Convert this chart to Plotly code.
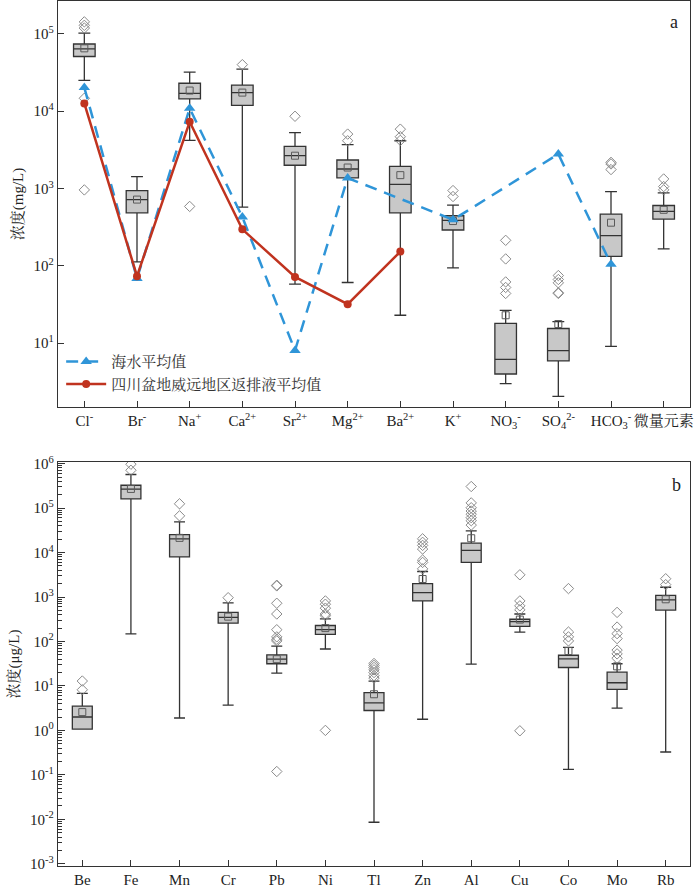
import plotly.graph_objects as go
from plotly.subplots import make_subplots

# ---- panel a: major ions (mg/L) ----
ions = ["Cl<sup>-</sup>", "Br<sup>-</sup>", "Na<sup>+</sup>", "Ca<sup>2+</sup>", "Sr<sup>2+</sup>",
        "Mg<sup>2+</sup>", "Ba<sup>2+</sup>", "K<sup>+</sup>", "NO<sub>3</sub><sup>-</sup>",
        "SO<sub>4</sub><sup>2-</sup>", "HCO<sub>3</sub><sup>-</sup>", "微量元素"]
ion_low = [25000, 113, 4200, 575, 58, 61, 23, 94, 3.0, 2.06, 9.1, 166]
ion_q1 = [51000, 486, 14400, 11900, 2000, 1370, 486, 291, 4.0, 5.9, 133, 403]
ion_med = [64000, 721, 17000, 17400, 2660, 1790, 1130, 387, 6.2, 8.0, 246, 506]
ion_q3 = [74000, 942, 23000, 21800, 3500, 2340, 1940, 445, 18.1, 15.5, 468, 604]
ion_high = [102000, 1430, 32000, 35000, 5300, 3690, 4150, 610, 26.6, 19, 914, 880]
ion_mean = [65000, 720, 18500, 17400, 2660, 1870, 1490, 380, 23, 17.7, 362, 531]
ion_outliers = [
    [143000, 129000, 119000, 14700, 960],
    [],
    [587],
    [40000],
    [8600],
    [5060, 4150],
    [5860, 4680, 4200],
    [942, 789],
    [214, 123, 62, 52.6, 44],
    [75, 66.7, 60.4, 44.9, 44],
    [2180, 2080, 1760],
    [1330, 1060, 962],
]
seawater = [20200, 68.7, 10900, 428, 8.05, 1370, None, 395, None, 2790, 105, None]
flowback = [12600, 73.6, 7300, 297, 72, 32, 153, None, None, None, None, None]

# ---- panel b: trace elements (ug/L) ----
elems = ["Be", "Fe", "Mn", "Cr", "Pb", "Ni", "Tl", "Zn", "Al", "Cu", "Co", "Mo", "Rb"]
el_low = [1.07, 148, 1.9, 3.7, 19.4, 67.8, 0.0086, 1.78, 31, 163, 0.133, 3.16, 0.327]
el_q1 = [1.07, 161000, 8000, 258, 31.6, 145, 2.8, 817, 6000, 218, 26, 8.4, 508]
el_med = [2.0, 267000, 20400, 350, 40, 184, 4.15, 1250, 11200, 281, 40.7, 11.8, 859]
el_q3 = [3.5, 327000, 25400, 451, 50, 229, 7.1, 2000, 16300, 316, 49, 20.4, 1090]
el_high = [6.8, 570000, 49000, 738, 79, 321, 12.9, 3750, 30600, 415, 74, 31.6, 1660]
el_mean = [2.58, 270000, 21400, 362, 40, 200, 6.5, 2540, 21000, 311, 61, 27.6, 889]
el_outliers = [
    [12.9, 8.2],
    [970000, 710000],
    [125000, 67000],
    [966],
    [1840, 1780, 724, 415, 184, 127, 112, 103, 0.119],
    [817, 689, 562, 415, 381, 1.0],
    [32, 29, 26, 23, 20, 17, 15],
    [20400, 17000, 14500, 12000, 6800, 6000, 4300],
    [306000, 131000, 102000, 86000, 72500, 61000, 52000, 41500],
    [3160, 817, 633, 516, 0.98],
    [1550, 163, 127, 103],
    [451, 211, 150, 116, 64, 52.6, 42],
    [2580, 1900],
]

a_ticks = [10, 100, 1000, 10000, 100000]
a_ticktext = ["10<sup>1</sup>", "10<sup>2</sup>", "10<sup>3</sup>", "10<sup>4</sup>", "10<sup>5</sup>"]
b_ticks = [0.001, 0.01, 0.1, 1, 10, 100, 1000, 10000, 100000, 1000000]
b_ticktext = ["10<sup>-3</sup>", "10<sup>-2</sup>", "10<sup>-1</sup>", "10<sup>0</sup>", "10<sup>1</sup>",
              "10<sup>2</sup>", "10<sup>3</sup>", "10<sup>4</sup>", "10<sup>5</sup>", "10<sup>6</sup>"]
b_minor = [m * d for d in b_ticks[:-1] for m in range(2, 10)]

SERIF = "Liberation Serif, Noto Serif CJK SC, Noto Sans CJK SC, serif"
FRAME = "#333333"
BOX_FILL = "#c8c8c8"

fig = make_subplots(rows=2, cols=1)


def add_panel(row, cats, low, q1, med, q3, high, mean, outliers):
    fig.add_trace(go.Box(
        x=cats, q1=q1, median=med, q3=q3, lowerfence=low, upperfence=high,
        fillcolor=BOX_FILL, line=dict(color=FRAME, width=1.3),
        width=0.41, whiskerwidth=0.55, boxpoints=False, showlegend=False,
        hoverinfo="skip",
    ), row=row, col=1)
    fig.add_trace(go.Scatter(
        x=cats, y=mean, mode="markers", showlegend=False,
        marker=dict(symbol="square-open", size=7, color="#5a5a5a", line=dict(width=1)),
    ), row=row, col=1)
    ox, oy = [], []
    for c, vals in zip(cats, outliers):
        ox += [c] * len(vals)
        oy += vals
    fig.add_trace(go.Scatter(
        x=ox, y=oy, mode="markers", showlegend=False,
        marker=dict(symbol="diamond-open", size=8, color="#8a8a8a", line=dict(width=1)),
    ), row=row, col=1)


add_panel(1, ions, ion_low, ion_q1, ion_med, ion_q3, ion_high, ion_mean, ion_outliers)
add_panel(2, elems, el_low, el_q1, el_med, el_q3, el_high, el_mean, el_outliers)

fig.add_trace(go.Scatter(
    x=ions, y=seawater, mode="lines+markers", name="海水平均值", connectgaps=True,
    line=dict(color="#2f95d8", width=2.5, dash="12px,8px"),
    marker=dict(symbol="triangle-up", size=10, color="#2f95d8"),
), row=1, col=1)
fig.add_trace(go.Scatter(
    x=ions, y=flowback, mode="lines+markers", name="四川盆地威远地区返排液平均值",
    line=dict(color="#c0331f", width=2.5),
    marker=dict(symbol="circle", size=8, color="#c0331f"),
), row=1, col=1)

axis_common = dict(showline=True, linecolor=FRAME, linewidth=1.3, mirror=True,
                   ticks="inside", tickcolor=FRAME, showgrid=False, zeroline=False,
                   automargin=False,
                   tickfont=dict(family=SERIF, size=15, color="#222"))

fig.update_xaxes(**axis_common, ticklen=6, domain=[0, 1], range=[-0.5, 11.5], row=1, col=1)
fig.update_xaxes(**axis_common, ticklen=6, domain=[0, 1], range=[-0.5, 12.5], row=2, col=1)
fig.update_yaxes(**axis_common, type="log", domain=[0.5306, 1.0], range=[0.175, 5.425],
                 tickmode="array", tickvals=a_ticks, ticktext=a_ticktext, ticklen=6,
                 title=dict(text="浓度(mg/L)", font=dict(family=SERIF, size=15, color="#222"), standoff=6),
                 row=1, col=1)
fig.update_yaxes(**axis_common, type="log", domain=[0.0, 0.467], range=[-3.05, 6.036],
                 tickmode="array", tickvals=b_ticks, ticktext=b_ticktext, ticklen=7,
                 minor=dict(tickmode="array", tickvals=b_minor, ticks="inside", ticklen=4,
                            tickcolor=FRAME, showgrid=False),
                 title=dict(text="浓度(μg/L)", font=dict(family=SERIF, size=15, color="#222"), standoff=6),
                 row=2, col=1)

fig.add_annotation(text="a", x=0.975, y=0.99, xref="paper", yref="paper", showarrow=False,
                   xanchor="center", yanchor="top", font=dict(family=SERIF, size=18, color="#222"))
fig.add_annotation(text="b", x=0.978, y=0.4538, xref="paper", yref="paper", showarrow=False,
                   xanchor="center", yanchor="top", font=dict(family=SERIF, size=18, color="#222"))

fig.update_layout(
    width=700, height=889,
    margin=dict(l=58, r=10, t=1, b=23),
    plot_bgcolor="white", paper_bgcolor="white",
    showlegend=True,
    legend=dict(x=0.005, y=0.602, xanchor="left", yanchor="top", bgcolor="rgba(0,0,0,0)",
                font=dict(family=SERIF, size=15, color="#333"), itemwidth=40, tracegroupgap=8),
)

# drop the default page margin so the 700x889 figure fills the window exactly
fig.write_html("out.html", config={"displayModeBar": False},
               post_script="document.body.style.margin='0';")
